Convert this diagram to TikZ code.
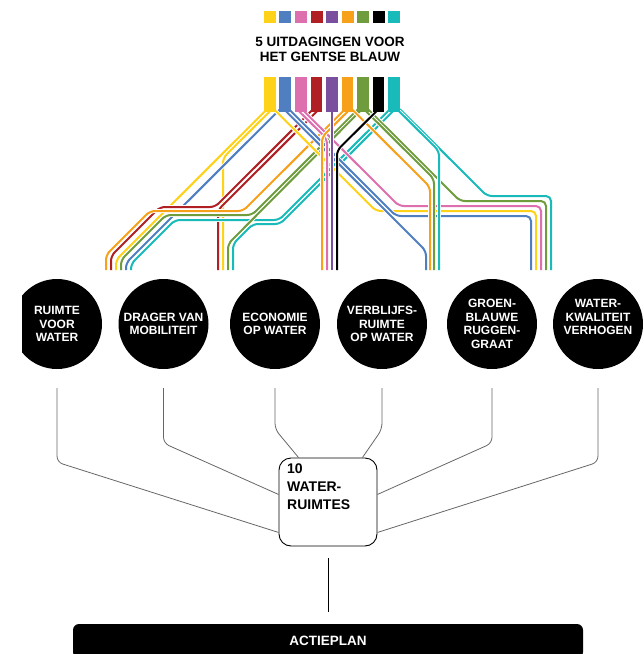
\documentclass[tikz,border=0pt]{standalone}
\usepackage{fontspec}
\setmainfont{Liberation Sans}
\usepackage{tikz}
\usetikzlibrary{positioning}
\usetikzlibrary{backgrounds}

\definecolor{cYellow}{HTML}{FFD21A}
\definecolor{cBlue}{HTML}{4F7FC1}
\definecolor{cPink}{HTML}{DE6FAE}
\definecolor{cRed}{HTML}{B01F24}
\definecolor{cPurple}{HTML}{7A509E}
\definecolor{cOrange}{HTML}{F7A11A}
\definecolor{cGreen}{HTML}{6F9C3D}
\definecolor{cCyan}{HTML}{19BABA}

\begin{document}
\begin{tikzpicture}[x=1pt, y=-1pt,
    swatch/.style={fill=#1, minimum size=12pt, inner sep=0pt},
    bar/.style={fill=#1, minimum width=11.5pt, minimum height=35pt, inner sep=0pt},
    route/.style={draw=#1, line width=2pt, rounded corners=5pt, preaction={draw=white, line width=3.8pt}},
    disc/.style={circle, fill=black, minimum size=90pt, inner sep=0pt, text=white, align=center, font=\fontsize{12}{13.7}\selectfont\bfseries},
    link/.style={draw=black!60, line width=0.8pt, rounded corners=6pt}]
    \useasboundingbox (0,0) rectangle (644,654);

    \node (sY) [swatch=cYellow] at (270,17) {};
    \node (sB) [swatch=cBlue] at (285,17) {};
    \node (sP) [swatch=cPink] at (301,17) {};
    \node (sR) [swatch=cRed] at (316.5,17) {};
    \node (sU) [swatch=cPurple] at (332,17) {};
    \node (sO) [swatch=cOrange] at (347.5,17) {};
    \node (sG) [swatch=cGreen] at (363,17) {};
    \node (sK) [swatch=black] at (378.5,17) {};
    \node (sC) [swatch=cCyan] at (394,17) {};

    \node (title) [align=center, font=\fontsize{13.5}{15}\selectfont\bfseries] at (330,49) {5 UITDAGINGEN VOOR\\HET GENTSE BLAUW};

    \node (bY) [bar=cYellow] at (270,94.5) {};
    \node (bB) [bar=cBlue] at (285,94.5) {};
    \node (bP) [bar=cPink] at (301,94.5) {};
    \node (bR) [bar=cRed] at (316.5,94.5) {};
    \node (bU) [bar=cPurple] at (332,94.5) {};
    \node (bO) [bar=cOrange] at (347.5,94.5) {};
    \node (bG) [bar=cGreen] at (363,94.5) {};
    \node (bK) [bar=black] at (378.5,94.5) {};
    \node (bC) [bar=cCyan] at (394,94.5) {};

    \begin{scope}[on background layer]
      \draw[route=cYellow] ([xshift=-3pt, yshift=3pt]bY.south) -- (116,260) -- (116,270);
      \draw[route=cYellow] ([xshift=2pt, yshift=3pt]bY.south) -- (223,158) -- (223,270);
      \draw[route=cBlue] ([xshift=-5pt, yshift=3pt]bB.south) -- (126,263) -- (126,270);
      \draw[route=cRed] ([xshift=-3.5pt, yshift=3pt]bR.south) -- (215,207) -- (160,207) -- (111,256) -- (111,270);
      \draw[route=cRed] ([xshift=2.5pt, yshift=3pt]bR.south) -- (218,210) -- (218,270);
      \draw[route=cOrange] ([xshift=-2.5pt, yshift=3pt]bO.south) -- (243,211) -- (150,211) -- (106,255) -- (106,270);
      \draw[route=cGreen] ([xshift=-5pt, yshift=3pt]bG.south) -- (252,215) -- (166,215) -- (121,260) -- (121,270);
      \draw[route=cCyan] ([xshift=-4pt, yshift=3pt]bC.south) -- (279,220) -- (175,220) -- (131,264) -- (131,270);
      \draw[route=cGreen] ([xshift=-1pt, yshift=3pt]bG.south) -- (228,244) -- (228,270);
      \draw[route=cCyan] ([xshift=1pt, yshift=3pt]bC.south) -- (280,224) -- (253,224) -- (233,244) -- (233,270);

      \draw[route=cYellow] ([xshift=4pt, yshift=3pt]bY.south) -- (376,211) -- (536,211) -- (536,270);
      \draw[route=cBlue] ([xshift=4pt, yshift=3pt]bB.south) -- (396,216) -- (531,216) -- (531,270);
      \draw[route=cPink] ([xshift=1pt, yshift=3pt]bP.south) -- (399,206) -- (541,206) -- (541,270);
      \draw[route=cBlue] ([xshift=-1pt, yshift=3pt]bB.south) -- (426,251) -- (426,270);
      \draw[route=cGreen] ([xshift=5pt, yshift=3pt]bG.south) -- (460,201) -- (546,201) -- (546,270);
      \draw[route=cCyan] ([xshift=6pt, yshift=3pt]bC.south) -- (487,196) -- (551,196) -- (551,270);
      \draw[route=cOrange] ([xshift=4.5pt, yshift=3pt]bO.south) -- (430,187) -- (430,270);
      \draw[route=cGreen] ([xshift=1pt, yshift=3pt]bG.south) -- (434,179) -- (434,270);
      \draw[route=cCyan] ([xshift=3pt, yshift=3pt]bC.south) -- (439,151) -- (439,270);

      \draw[route=cPink] ([xshift=-4pt, yshift=3pt]bP.south) -- (327,139) -- (327,270);
      \draw[route=cOrange] ([xshift=2.5pt, yshift=3pt]bO.south) -- (322,137) -- (322,270);
      \draw[route=cPurple] ([yshift=3pt]bU.south) -- (332,270);
      \draw[route=black] ([yshift=3pt]bK.south) -- (337,150.5) -- (337,270);
    \end{scope}

    \begin{scope}
      \clip (22,0) rectangle (644,654);
      \node (c1) [disc] at (57,324) {RUIMTE\\VOOR\\WATER};
    \end{scope}
    \node (c2) [disc] at (163.5,324) {DRAGER VAN\\MOBILITEIT};
    \node (c3) [disc] at (275,324) {ECONOMIE\\OP WATER};
    \node (c4) [disc] at (382,324) {VERBLIJFS-\\RUIMTE\\OP WATER};
    \node (c5) [disc] at (492,324) {GROEN-\\BLAUWE\\RUGGEN-\\GRAAT};
    \node (c6) [disc] at (598,324) {};
    \node (c6t) [text=white, align=center, font=\fontsize{12}{13.7}\selectfont\bfseries] at (598,317) {WATER-\\KWALITEIT\\VERHOGEN};

    \node (wr) [draw, rounded corners=12pt, minimum width=98pt, minimum height=88pt, line width=0.9pt] at (328,502) {};
    \node (wrt) [anchor=north west, align=left, inner sep=0pt, font=\fontsize{14}{18}\selectfont\bfseries] at (287,464) {10\\WATER-\\RUIMTES};

    \draw[link] ([yshift=-19pt]c1.south) -- ++(0,74) -- ([yshift=14pt]wr.south west);
    \draw[link] ([yshift=-19pt]c2.south) -- ++(0,55) -- ([yshift=52pt]wr.south west);
    \draw[link] ([yshift=-19pt]c3.south) -- ++(0,41) -- ([xshift=20pt]wr.north west);
    \draw[link] ([yshift=-19pt]c4.south) -- ++(0,41) -- ([xshift=-15pt]wr.north east);
    \draw[link] ([yshift=-19pt]c5.south) -- ++(0,55) -- ([yshift=52pt]wr.south east);
    \draw[link] ([yshift=-19pt]c6.south) -- ++(0,74) -- ([yshift=14pt]wr.south east);

    \node (plan) [fill=black, rounded corners=6pt, minimum width=510pt, minimum height=34pt, text=white, font=\fontsize{13.5}{15}\selectfont\bfseries] at (328,641) {ACTIEPLAN};
    \draw[line width=0.9pt] ([yshift=-12pt]wr.south) -- ([yshift=12pt]plan.north);
\end{tikzpicture}
\end{document}
